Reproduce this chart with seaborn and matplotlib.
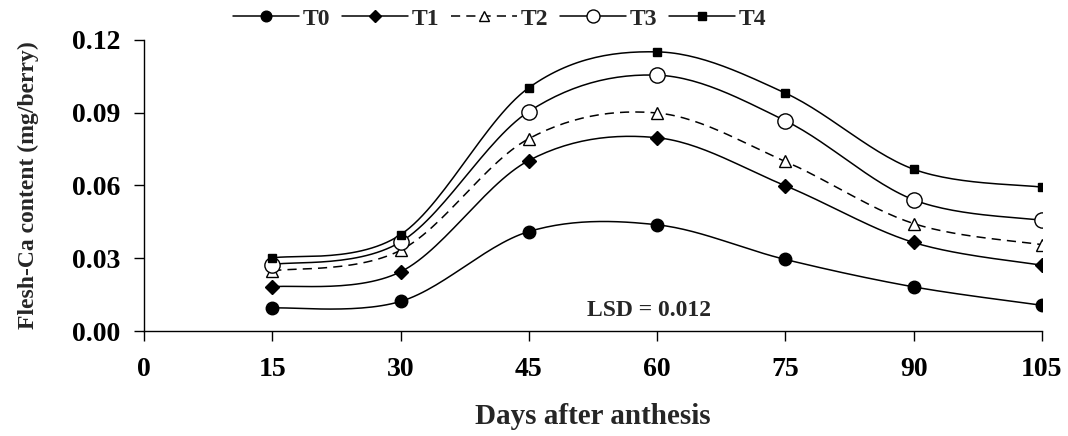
import numpy as np
import pandas as pd
import matplotlib
matplotlib.use('Agg')
import matplotlib.pyplot as plt
import seaborn as sns
from matplotlib.lines import Line2D

days = [15, 30, 45, 60, 75, 90, 105]
t0 = [0.0095, 0.0122, 0.0410, 0.0438, 0.0295, 0.0182, 0.0106]
t1 = [0.0182, 0.0244, 0.0703, 0.0797, 0.0599, 0.0365, 0.0271]
t2 = [0.0248, 0.0333, 0.0793, 0.0899, 0.0699, 0.0443, 0.0356]
t3 = [0.0274, 0.0367, 0.0905, 0.1055, 0.0867, 0.0541, 0.0456]
t4 = [0.0301, 0.0397, 0.1003, 0.1151, 0.0981, 0.0667, 0.0593]
treatments = ['T0', 'T1', 'T2', 'T3', 'T4']
yticks = [0.00, 0.03, 0.06, 0.09, 0.12]
xticks = [0, 15, 30, 45, 60, 75, 90, 105]

series = dict(zip(treatments, [t0, t1, t2, t3, t4]))

# marker / line style per treatment (black & white, excel look)
styles = {
    'T0': dict(marker='o', ms=9, mfc='black', ls='-'),
    'T1': dict(marker='D', ms=7, mfc='black', ls='-'),
    'T2': dict(marker='^', ms=9, mfc='white', ls=(0, (6, 4))),
    'T3': dict(marker='o', ms=11, mfc='white', ls='-'),
    'T4': dict(marker='s', ms=6, mfc='black', ls='-'),
}


def smooth(x, y, n=30):
    # excel-like smoothed line (catmull-rom through the points)
    x = np.asarray(x, float)
    y = np.asarray(y, float)
    px = np.concatenate([[x[0]], x, [x[-1]]])
    py = np.concatenate([[y[0]], y, [y[-1]]])
    xs, ys = [], []
    t = np.linspace(0, 1, n)
    for i in range(1, len(px) - 2):
        p0, p1, p2, p3 = px[i - 1], px[i], px[i + 1], px[i + 2]
        q0, q1, q2, q3 = py[i - 1], py[i], py[i + 1], py[i + 2]
        cx1, cx2 = p1 + (p2 - p0) / 6, p2 - (p3 - p1) / 6
        cy1, cy2 = q1 + (q2 - q0) / 6, q2 - (q3 - q1) / 6
        b = [(1 - t) ** 3, 3 * (1 - t) ** 2 * t, 3 * (1 - t) * t ** 2, t ** 3]
        xs.append(b[0] * p1 + b[1] * cx1 + b[2] * cx2 + b[3] * p2)
        ys.append(b[0] * q1 + b[1] * cy1 + b[2] * cy2 + b[3] * q2)
    return np.concatenate(xs), np.concatenate(ys)


sns.set_style('ticks')
plt.rcParams['font.family'] = ['Liberation Serif', 'DejaVu Serif']
plt.rcParams['font.weight'] = 'bold'

fig = plt.figure(figsize=(10.68, 4.36), dpi=100)
ax = fig.add_axes([0.1348, 0.2408, 0.8408, 0.6675])

handles = []
for name in treatments:
    st = styles[name]
    sx, sy = smooth(days, series[name])
    sm = pd.DataFrame({'day': sx, 'val': sy})
    sns.lineplot(data=sm, x='day', y='val', ax=ax, color='black', lw=1.1,
                 linestyle=st['ls'], sort=False, estimator=None, legend=False)
    ax.plot(days, series[name], linestyle='none', marker=st['marker'], ms=st['ms'],
            mfc=st['mfc'], mec='black', mew=1.0, zorder=3)
    handles.append(Line2D([], [], color='black', lw=1.1, linestyle=st['ls'],
                          marker=st['marker'], ms=st['ms'] * 0.85, mfc=st['mfc'],
                          mec='black', mew=1.0))

ax.set_xlim(0, 105)
ax.set_ylim(0, 0.12)
ax.set_xticks(xticks)
ax.set_yticks(yticks)
ax.set_yticklabels([f'{v:.2f}' for v in yticks])
ax.tick_params(axis='both', labelsize=20, width=1.0, color='black', labelcolor='black')
ax.tick_params(axis='x', length=7, pad=12)
ax.tick_params(axis='y', length=7, pad=10)
sns.despine(ax=ax)
for s in ['left', 'bottom']:
    ax.spines[s].set_color('black')
    ax.spines[s].set_linewidth(1.0)

ax.set_xlabel('Days after anthesis', fontsize=21, fontweight='bold', labelpad=15)
ax.set_ylabel('Flesh-Ca content (mg/berry)', fontsize=17, fontweight='bold', labelpad=24)

ax.text(59, 0.0086, 'LSD = 0.012', ha='center', va='center', fontsize=17, fontweight='bold')

fig.legend(handles, treatments, loc='center', bbox_to_anchor=(0.468, 0.957), ncol=5,
           frameon=False, handlelength=2.8, columnspacing=0.5,
           handletextpad=0.15, prop={'weight': 'bold', 'size': 17})

fig.savefig('out.png', dpi=100)
